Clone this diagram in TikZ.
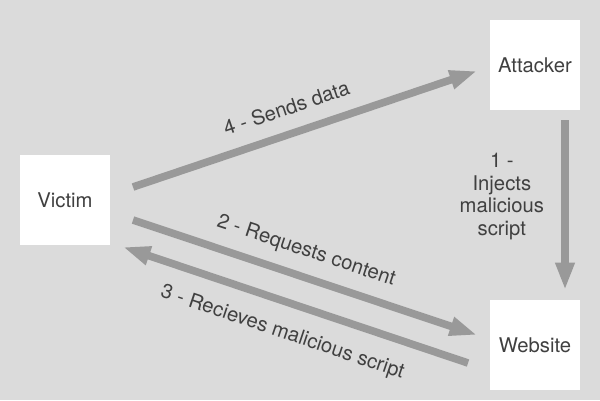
\documentclass[tikz,border=0pt]{standalone}
\usepackage{fontspec}
\setmainfont{TeX Gyre Heros}
\usetikzlibrary{arrows.meta,positioning}
\definecolor{bggray}{HTML}{DBDBDB}
\definecolor{flowgray}{HTML}{999999}
\definecolor{txtgray}{HTML}{404040}
\tikzset{
  box/.style={fill=white, minimum width=1.5cm, minimum height=1.5cm, inner sep=0pt, align=center, text=txtgray, font=\fontsize{9.6}{11}\selectfont},
  flow/.style={-{Triangle[length=13pt,width=8.5pt]}, draw=flowgray, line width=3.6pt},
  flowback/.style={{Triangle[length=13pt,width=8.5pt]}-, draw=flowgray, line width=3.6pt},
  lbl/.style={text=txtgray, font=\fontsize{9.6}{10.7}\selectfont}
}

\begin{document}
\begin{tikzpicture}[x=0.0166667cm, y=-0.0166667cm]
\fill[bggray] (0,0) rectangle (600,400);
\node[box] (victim) at (65,200) {Victim};
\node[box] (attacker) at (535,65) {Attacker};
\node[box] (website) at (535,345) {Website};
\coordinate (v4) at (133,187);
\coordinate (a4) at (477,71);
\coordinate (a1) at (565,120);
\coordinate (w1) at (565,290);
\coordinate (v2) at (133,220);
\coordinate (w2) at (477,335);
\coordinate (v3) at (123,247);
\coordinate (w3) at (468,363);
\draw[flow] (a1) -- node[lbl, align=center, left=4.8pt, pos=.45] (injects) {1 -\\Injects\\malicious\\script} (w1);
\draw[flow] (v2) -- node[lbl, sloped, above=2.3pt, pos=.48] (requests) {2 - Requests content} (w2);
\draw[flowback] (v3) -- node[lbl, sloped, below=4.8pt, pos=.49] (receives) {3 - Recieves malicious script} (w3);
\draw[flow] (v4) -- node[lbl, sloped, above=3.5pt, pos=.47] (sends) {4 - Sends data} (a4);
\end{tikzpicture}
\end{document}
